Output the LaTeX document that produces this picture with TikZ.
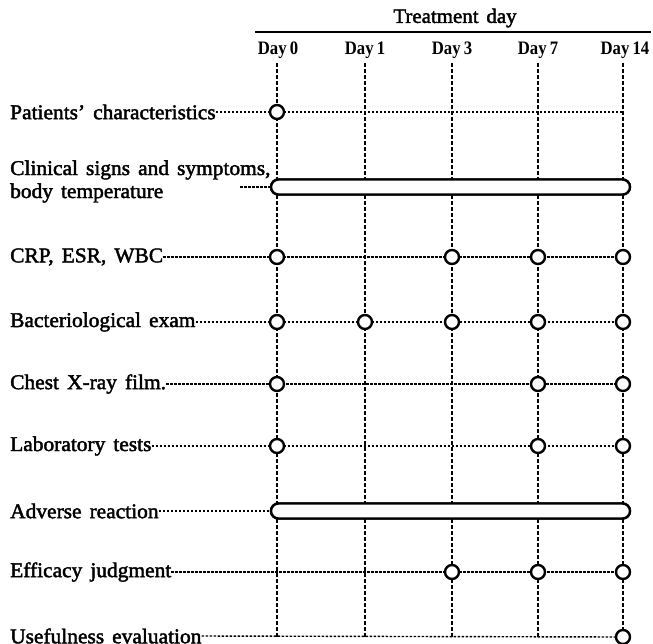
\documentclass[tikz,border=0pt]{standalone}
\usepackage{fontspec}
\setmainfont{Liberation Serif}[FakeStretch=1.02, WordSpace=1.5, FakeBold=2]
\newfontfamily\dayfont{Liberation Serif}[FakeStretch=0.88]
\usetikzlibrary{shapes.misc}
\begin{document}
\begin{tikzpicture}[x=1pt,y=-1pt,
  lbl/.style={anchor=west, inner sep=0pt, font=\fontsize{21}{23}\selectfont},
  daylbl/.style={inner sep=0pt, font=\dayfont\bfseries\fontsize{19}{20}\selectfont},
  vline/.style={line width=1.5pt, dash pattern=on 4pt off 2pt},
  hline/.style={line width=1.4pt, dash pattern=on 2.5pt off 1.5pt},
  topline/.style={line width=1.8pt},
  obs/.style={circle, draw, line width=2.4pt, fill=white, minimum size=14pt, inner sep=0pt},
  period/.style={rounded rectangle, draw, line width=2.4pt, fill=white, minimum width=359pt, minimum height=15pt, inner sep=0pt}]
\useasboundingbox (0,0) rectangle (653,643);

% header
\node[inner sep=0pt, font=\fontsize{20.5}{23}\selectfont] (td) at (455,18) {Treatment day};
\coordinate (hl) at (255,32);
\coordinate (hr) at (651,32);
\draw[topline] (hl) -- (hr);

\node[daylbl] (d0) at (278,50) {Day\,0};
\node[daylbl] (d1) at (365,50) {Day\,1};
\node[daylbl] (d3) at (452,50) {Day\,3};
\node[daylbl] (d7) at (538,50) {Day\,7};
\node[daylbl] (d14) at (625,50) {Day\,14};

% vertical guides
\foreach \n/\x in {0/277,1/365,3/452,7/538,14/623}{
  \coordinate (t\n) at (\x,63);
  \coordinate (b\n) at (\x,637);
  \draw[vline] (t\n) -- (b\n);
}

% row labels
\node[lbl] (l1) at (10,112) {Patients' characteristics};
\node[lbl, align=left] (l2) at (10,181.5) {Clinical signs and symptoms,\\body temperature};
\node[lbl] (l3) at (10,257) {CRP, ESR, WBC};
\node[lbl] (l4) at (10,322) {Bacteriological exam};
\node[lbl] (l5) at (10,384) {Chest X-ray film.};
\node[lbl] (l6) at (10,446) {Laboratory tests};
\node[lbl] (l7) at (10,511) {Adverse reaction};
\node[lbl] (l8) at (10,572) {Efficacy judgment};
\node[lbl] (l9) at (10,636) {Usefulness evaluation};

% row end points
\coordinate (e1) at (623,112);
\coordinate (e3) at (623,257);
\coordinate (e4) at (623,322);
\coordinate (e5) at (623,384);
\coordinate (e6) at (623,446);
\coordinate (e8) at (623,572);
\coordinate (e9) at (623,637);
\coordinate (s2) at (240,187);

% bars
\node[period] (p2) at (450.5,187) {};
\node[period] (p7) at (450.5,511) {};

% horizontal guides
\draw[hline] (l1.east) -- (e1);
\draw[hline] (s2) -- (p2.west);
\draw[hline] (l3.east) -- (e3);
\draw[hline] (l4.east) -- (e4);
\draw[hline] (l5.east) -- (e5);
\draw[hline] (l6.east) -- (e6);
\draw[hline] (l7.east) -- (p7.west);
\draw[hline] (l8.east) -- (e8);
\draw[hline] (l9.east) -- (e9);

% redraw bars over guides
\node[period] at (p2) {};
\node[period] at (p7) {};

% observation points
\node[obs] (o10) at (277,112) {};
\node[obs] (o30) at (277,257) {};
\node[obs] (o33) at (452,257) {};
\node[obs] (o37) at (538,257) {};
\node[obs] (o314) at (623,257) {};
\node[obs] (o40) at (277,322) {};
\node[obs] (o41) at (365,322) {};
\node[obs] (o43) at (452,322) {};
\node[obs] (o47) at (538,322) {};
\node[obs] (o414) at (623,322) {};
\node[obs] (o50) at (277,384) {};
\node[obs] (o57) at (538,384) {};
\node[obs] (o514) at (623,384) {};
\node[obs] (o60) at (277,446) {};
\node[obs] (o67) at (538,446) {};
\node[obs] (o614) at (623,446) {};
\node[obs] (o83) at (452,572) {};
\node[obs] (o87) at (538,572) {};
\node[obs] (o814) at (623,572) {};
\node[obs] (o914) at (623,637) {};
\end{tikzpicture}
\end{document}
